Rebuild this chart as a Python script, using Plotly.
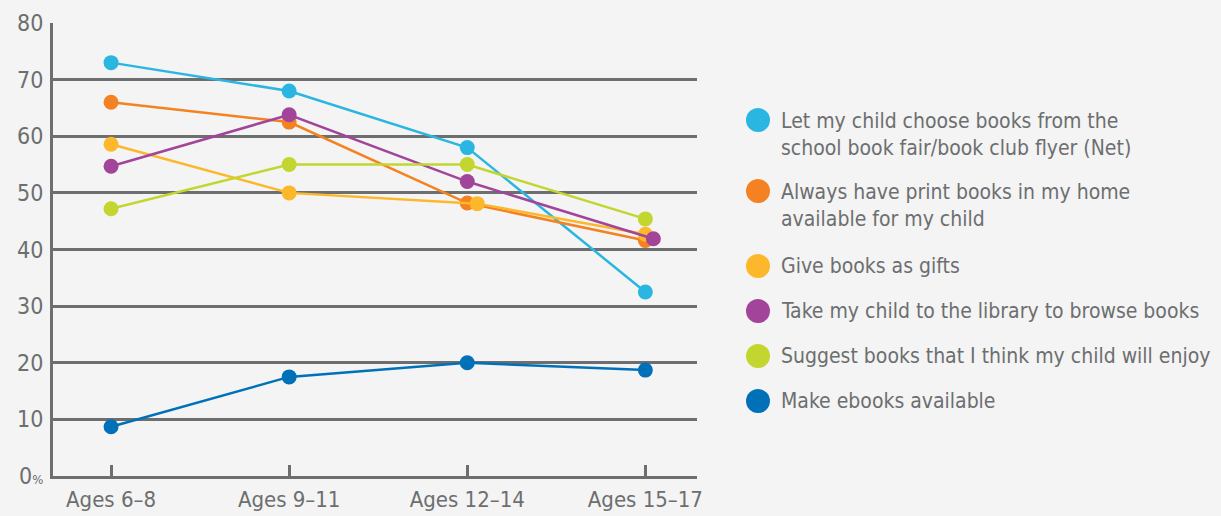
import plotly.graph_objects as go

# Age groups on the x axis
age_groups = ["Ages 6–8", "Ages 9–11", "Ages 12–14", "Ages 15–17"]

# Share of parents (%) for each reading-support behaviour
choose_from_fair = [73, 68, 58, 32.5]
print_books_home = [66, 62.5, 48.2, 41.6]
books_as_gifts = [58.6, 50, 48.1, 42.7]
library_browse = [54.7, 63.8, 52, 41.9]
suggest_books = [47.2, 55, 55, 45.4]
ebooks_available = [8.7, 17.5, 20, 18.7]

series_names = [
    "Let my child choose books from the<br>school book fair/book club flyer (Net)",
    "Always have print books in my home<br>available for my child",
    "Give books as gifts",
    "Take my child to the library to browse books",
    "Suggest books that I think my child will enjoy",
    "Make ebooks available",
]
series_values = [choose_from_fair, print_books_home, books_as_gifts,
                 library_browse, suggest_books, ebooks_available]

y_tick_vals = [0, 10, 20, 30, 40, 50, 60, 70, 80]
y_tick_text = ["0<span style='font-size:13px'>%</span>", "10", "20", "30",
               "40", "50", "60", "70", "80"]

# Styling
colors = ["#2bb6e2", "#f48222", "#fdb72a", "#a2449a", "#c2d62f", "#0071b9"]
# small horizontal nudges (category units) so overlapping dots stay visible
nudges = [
    [0, 0, 0, 0],
    [0, 0, 0, 0],
    [0, 0, 0.056, 0],
    [0, 0, 0, 0.045],
    [0, 0, 0, 0],
    [0, 0, 0, 0],
]
GRAY = "#6d6e70"
BG = "#f3f4f3"
FONT = "DejaVu Sans Condensed, Liberation Sans Narrow, sans-serif"

W, H = 1221, 516
L, R, T, B = 53, 697, 23, 476  # plot area in pixels

fig = go.Figure()
for name, vals, col, nud in zip(series_names, series_values, colors, nudges):
    xs = [i + d for i, d in enumerate(nud)]
    fig.add_trace(go.Scatter(
        x=xs, y=vals, mode="lines+markers", name=name.replace("<br>", " "),
        line=dict(color=col, width=2.5),
        marker=dict(color=col, size=15),
        showlegend=False, cliponaxis=False,
    ))

# Legend drawn as dots and labels to the right of the plot
def px_x(px):
    return (px - L) / (R - L)

def px_y(py):
    return (B - py) / (B - T)

legend_rows = [120, 191, 266, 311, 356, 401]
line_h = 29
shapes = []
annotations = []
for name, col, cy in zip(series_names, colors, legend_rows):
    shapes.append(dict(
        type="circle", xref="paper", yref="paper",
        xsizemode="pixel", ysizemode="pixel",
        xanchor=px_x(758), yanchor=px_y(cy),
        x0=-12, x1=12, y0=-12, y1=12,
        fillcolor=col, line=dict(width=0),
    ))
    n_lines = name.count("<br>") + 1
    annotations.append(dict(
        xref="paper", yref="paper", x=px_x(779),
        y=px_y(cy + (n_lines - 1) * line_h / 2),
        xanchor="left", yanchor="middle", align="left",
        text=name, showarrow=False,
        font=dict(family=FONT, size=21, color=GRAY),
    ))

fig.update_layout(
    width=W, height=H,
    margin=dict(l=L, r=W - R, t=T, b=H - B, pad=0, autoexpand=False),
    paper_bgcolor=BG, plot_bgcolor=BG,
    shapes=shapes, annotations=annotations,
    font=dict(family=FONT, color=GRAY),
)
fig.update_xaxes(
    range=[-0.326, 3.29], tickmode="array",
    tickvals=list(range(len(age_groups))), ticktext=age_groups,
    showgrid=False, zeroline=False, automargin=False,
    showline=True, linecolor=GRAY, linewidth=3,
    ticks="inside", ticklen=11, tickwidth=2.5, tickcolor=GRAY,
    tickfont=dict(family=FONT, size=22, color=GRAY),
    ticklabelstandoff=2, fixedrange=True,
)
fig.update_yaxes(
    range=[0, 80], tickmode="array", tickvals=y_tick_vals, ticktext=y_tick_text,
    showgrid=True, gridcolor=GRAY, gridwidth=2.5, zeroline=False, automargin=False,
    showline=True, linecolor=GRAY, linewidth=3, ticks="",
    tickfont=dict(family=FONT, size=23, color=GRAY),
    ticklabelstandoff=2, fixedrange=True,
)

fig.write_html("out.html", config=dict(displayModeBar=False))
